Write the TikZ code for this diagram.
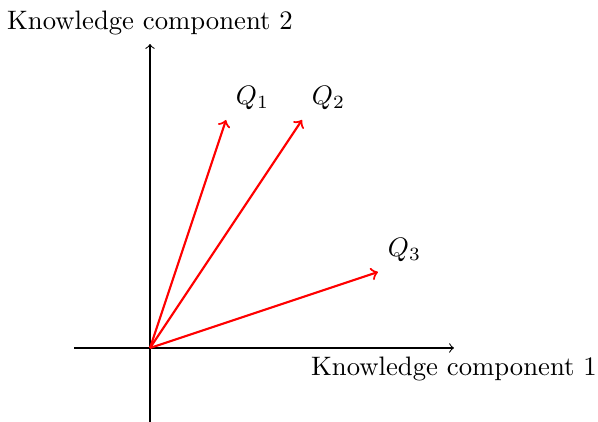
\documentclass[tikz,border=0pt]{standalone}
\begin{document}
\begin{tikzpicture}[
  axis/.style={->},
  vec/.style={->,red,thick}]
\useasboundingbox (-1.974,-0.974) rectangle (5.895,4.579);
\coordinate (O) at (0,0);
\coordinate (xs) at (-1,0);
\coordinate (xe) at (4,0);
\coordinate (ys) at (0,-1);
\coordinate (ye) at (0,4);
\coordinate (q1) at (1,3);
\coordinate (q2) at (2,3);
\coordinate (q3) at (3,1);
\draw[axis] (xs) -- (xe) node[below] (xl) {Knowledge component 1};
\draw[axis] (ys) -- (ye) node[above] (yl) {Knowledge component 2};
\draw[vec] (O) -- (q1) node[above right,black] (l1) {$Q_1$};
\draw[vec] (O) -- (q2) node[above right,black] (l2) {$Q_2$};
\draw[vec] (O) -- (q3) node[above right,black] (l3) {$Q_3$};
\end{tikzpicture}
\end{document}
